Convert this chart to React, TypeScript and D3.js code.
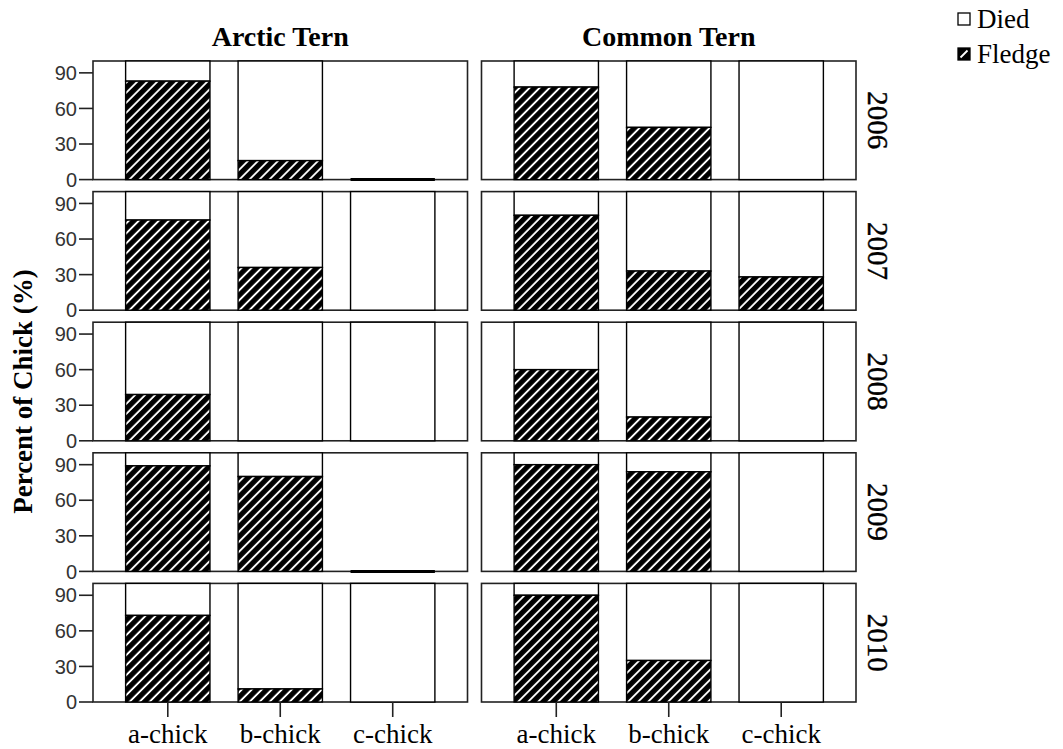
import React from "react";
import * as d3 from "d3";

const years = ["2006", "2007", "2008", "2009", "2010"];
const species = ["Arctic Tern", "Common Tern"];
const chicks = ["a-chick", "b-chick", "c-chick"];
// percent fledged, rows = years, cols = chicks; null = no chicks that year
const arcticFledge = [
  [83, 16, null],
  [76, 36, 0],
  [39, 0, 0],
  [89, 80, null],
  [73, 11, 0],
];
const commonFledge = [
  [78, 44, 0],
  [80, 33, 28],
  [60, 20, 0],
  [90, 84, 0],
  [90, 35, 0],
];
const yTicks = [0, 30, 60, 90];
const legendItems = ["Died", "Fledge"];

const W = 1063;
const H = 749;
const serif = "'Liberation Serif', 'Times New Roman', serif";
const sans = "'Liberation Sans', Arial, sans-serif";

export default function App() {
  const col = d3.scaleBand().domain(species).range([93, 856]).paddingInner(0.036);
  const row = d3.scaleBand().domain(years).range([61, 702]).paddingInner(0.092);
  const x = d3
    .scaleBand()
    .domain(chicks)
    .range([0, col.bandwidth()])
    .paddingInner(0.25)
    .paddingOuter(0.29);
  const y = d3.scaleLinear().domain([0, 100]).range([row.bandwidth(), 0]);
  const data = [arcticFledge, commonFledge];
  const rightEdge = col(species[1])! + col.bandwidth();
  const bottomY = row(years[years.length - 1])! + row.bandwidth();

  return (
    <svg
      width={W}
      height={H}
      style={{ position: "absolute", left: 0, top: 0, background: "#fff" }}
    >
      <defs>
        <pattern
          id="hatch"
          patternUnits="userSpaceOnUse"
          width={7.07}
          height={7.07}
          patternTransform="rotate(45)"
        >
          <rect width={7.07} height={7.07} fill="#000" />
          <line x1={3.5} y1={0} x2={3.5} y2={7.07} stroke="#fff" strokeWidth={1.9} />
        </pattern>
      </defs>

      {/* column titles */}
      {species.map((s) => (
        <text
          key={s}
          x={col(s)! + col.bandwidth() / 2}
          y={46}
          textAnchor="middle"
          fontFamily={serif}
          fontWeight="bold"
          fontSize={28}
        >
          {s}
        </text>
      ))}

      {/* panels */}
      {species.map((s, si) =>
        years.map((yr, yi) => {
          const px = col(s)!;
          const py = row(yr)!;
          return (
            <g key={s + yr} transform={`translate(${px},${py})`}>
              <rect
                width={col.bandwidth()}
                height={row.bandwidth()}
                fill="#fff"
                stroke="#222"
                strokeWidth={1.6}
              />
              {chicks.map((c, ci) => {
                const v = data[si][yi][ci];
                const bx = x(c)!;
                const bw = x.bandwidth();
                if (v === null) {
                  return (
                    <line
                      key={c}
                      x1={bx}
                      x2={bx + bw}
                      y1={y(0)}
                      y2={y(0)}
                      stroke="#000"
                      strokeWidth={3}
                    />
                  );
                }
                return (
                  <g key={c}>
                    <rect
                      x={bx}
                      y={y(100)}
                      width={bw}
                      height={y(v) - y(100)}
                      fill="#fff"
                      stroke="#000"
                      strokeWidth={1.4}
                    />
                    {v > 0 && (
                      <rect
                        x={bx}
                        y={y(v)}
                        width={bw}
                        height={y(0) - y(v)}
                        fill="url(#hatch)"
                        stroke="#000"
                        strokeWidth={1.4}
                      />
                    )}
                  </g>
                );
              })}
              {si === 0 &&
                yTicks.map((t) => (
                  <g key={t} transform={`translate(0,${y(t)})`}>
                    <line x1={-14} x2={0} stroke="#222" strokeWidth={1.6} />
                    <text
                      x={-16}
                      dy="0.36em"
                      textAnchor="end"
                      fontFamily={sans}
                      fontSize={20}
                      fill="#333"
                    >
                      {t}
                    </text>
                  </g>
                ))}
            </g>
          );
        })
      )}

      {/* year strip labels */}
      {years.map((yr) => (
        <text
          key={yr}
          transform={`translate(${rightEdge + 12},${row(yr)! + row.bandwidth() / 2}) rotate(90)`}
          textAnchor="middle"
          fontFamily={serif}
          fontSize={29}
          stroke="#000"
          strokeWidth={0.4}
        >
          {yr}
        </text>
      ))}

      {/* bottom category axis */}
      {species.map((s) =>
        chicks.map((c) => {
          const cx = col(s)! + x(c)! + x.bandwidth() / 2;
          return (
            <g key={s + c}>
              <line x1={cx} x2={cx} y1={bottomY} y2={bottomY + 15} stroke="#222" strokeWidth={1.6} />
              <text
                x={cx}
                y={743}
                textAnchor="middle"
                fontFamily={serif}
                fontSize={27}
              >
                {c}
              </text>
            </g>
          );
        })
      )}

      {/* y axis title */}
      <text
        transform={`translate(32,${(61 + bottomY) / 2 + 10}) rotate(-90)`}
        textAnchor="middle"
        fontFamily={serif}
        fontWeight="bold"
        fontSize={27}
      >
        Percent of Chick (%)
      </text>

      {/* legend */}
      {legendItems.map((d, i) => (
        <g key={d} transform={`translate(958,${13 + i * 35})`}>
          <rect
            width={12}
            height={12}
            fill={i === 0 ? "#fff" : "#000"}
            stroke="#000"
            strokeWidth={1.3}
          />
          {i === 1 && <line x1={2.5} y1={9.5} x2={9.5} y2={2.5} stroke="#fff" strokeWidth={1.8} />}
          <text x={19} y={15} fontFamily={serif} fontSize={27}>
            {d}
          </text>
        </g>
      ))}
    </svg>
  );
}
